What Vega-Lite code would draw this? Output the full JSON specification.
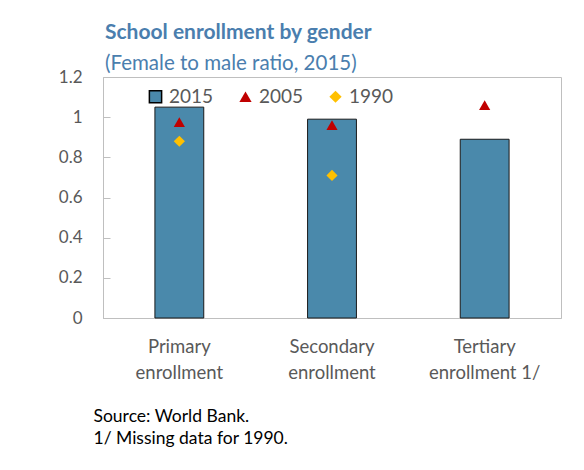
{
  "$schema": "https://vega.github.io/schema/vega-lite/v6.json",
  "width": 458,
  "height": 241,
  "autosize": {"type": "none"},
  "padding": {"left": 103, "top": 77, "right": 23, "bottom": 152},
  "background": "white",
  "config": {
    "font": "Lato",
    "view": {"stroke": "#bfbfbf", "strokeWidth": 1}
  },
  "title": {
    "text": "School enrollment by gender",
    "subtitle": "(Female to male ratio, 2015)",
    "anchor": "start",
    "frame": "group",
    "dx": 2,
    "dy": 10,
    "offset": 4,
    "font": "Lato",
    "fontSize": 21,
    "fontWeight": "bold",
    "color": "#4a7eae",
    "subtitleFont": "Lato",
    "subtitleFontSize": 20.5,
    "subtitleColor": "#4a7eae",
    "subtitlePadding": 11
  },
  "data": {
    "values": [
      {"category": "Primary|enrollment", "series": "2015", "value": 1.05},
      {"category": "Secondary|enrollment", "series": "2015", "value": 0.99},
      {"category": "Tertiary|enrollment 1/", "series": "2015", "value": 0.89},
      {"category": "Primary|enrollment", "series": "2005", "value": 0.975},
      {"category": "Secondary|enrollment", "series": "2005", "value": 0.96},
      {"category": "Tertiary|enrollment 1/", "series": "2005", "value": 1.06},
      {"category": "Primary|enrollment", "series": "1990", "value": 0.88},
      {"category": "Secondary|enrollment", "series": "1990", "value": 0.71}
    ]
  },
  "encoding": {
    "x": {
      "field": "category",
      "type": "nominal",
      "sort": null,
      "scale": {"paddingInner": 0.68, "paddingOuter": 0.34},
      "axis": {
        "labelAngle": 0,
        "labelExpr": "split(datum.label, '|')",
        "labelFontSize": 18.5,
        "labelColor": "#595959",
        "labelLineHeight": 26,
        "labelPadding": 19,
        "ticks": false,
        "domainColor": "#bfbfbf",
        "title": ["Source: World Bank.", "1/ Missing data for 1990."],
        "titleFontSize": 17.5,
        "titleFontWeight": "normal",
        "titleColor": "black",
        "titleAlign": "left",
        "titleAnchor": "start",
        "titleLineHeight": 22,
        "titleX": -10,
        "titleY": 103,
        "titleBaseline": "alphabetic"
      }
    },
    "y": {
      "field": "value",
      "type": "quantitative",
      "scale": {"domain": [0, 1.2], "nice": false},
      "axis": {
        "values": [0, 0.2, 0.4, 0.6, 0.8, 1, 1.2],
        "format": ".1~f",
        "grid": false,
        "title": null,
        "labelFontSize": 17,
        "labelColor": "#595959",
        "labelPadding": 28,
        "tickSize": -7,
        "tickColor": "#bfbfbf",
        "domainColor": "#bfbfbf"
      }
    },
    "color": {
      "field": "series",
      "type": "nominal",
      "scale": {"domain": ["2015", "2005", "1990"], "range": ["#4a89ab", "#c00000", "#ffc000"]},
      "legend": {
        "title": null,
        "orient": "none",
        "direction": "horizontal",
        "legendX": 43,
        "legendY": 10,
        "columns": 3,
        "columnPadding": 22,
        "labelFontSize": 19,
        "labelColor": "#595959",
        "labelOffset": 4,
        "symbolSize": 150,
        "symbolOpacity": 1,
        "encode": {
          "symbols": {
            "update": {
              "stroke": {"signal": "datum.value == '2015' ? 'black' : null"},
              "strokeWidth": {"value": 1.5}
            }
          }
        }
      }
    }
  },
  "layer": [
    {
      "transform": [{"filter": "datum.series == '2015'"}],
      "mark": {"type": "bar", "stroke": "#1a1a1a", "strokeWidth": 1}
    },
    {
      "transform": [{"filter": "datum.series != '2015'"}],
      "mark": {"type": "point", "filled": true, "opacity": 1, "size": 125},
      "encoding": {
        "shape": {
          "field": "series",
          "type": "nominal",
          "scale": {"domain": ["2015", "2005", "1990"], "range": ["square", "triangle-up", "diamond"]},
          "legend": null
        }
      }
    }
  ]
}
